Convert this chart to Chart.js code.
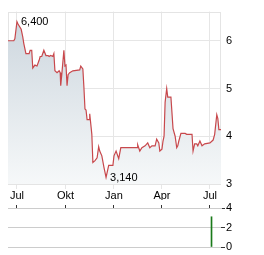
<!DOCTYPE html>
<html><head><meta charset="utf-8">
<script src="https://cdn.jsdelivr.net/npm/chart.js@4.4.1/dist/chart.umd.min.js"></script>
<style>
html,body{margin:0;padding:0;background:#fff;}
#wrap{position:relative;width:264px;height:255px;}
#c1{position:absolute;left:0;top:0;}
#c2{position:absolute;left:0;top:200px;}
</style></head><body>
<div id="wrap">
<canvas id="c1" width="264" height="200"></canvas>
<canvas id="c2" width="264" height="55"></canvas>
</div>
<script>
// Days counted from 2023-07-01
const priceDays = [-17,-6,-4,0,2,8,11,13,17,23,25,28,30,34,38,42,44,47,51,55,59,61,64,68,70,72,76,80,82,83,85,89,91,93,95,97,100,106,119,121,125,127,129,131,133,137,138,142,144,148,152,155,157,161,165,169,174,182,184,188,193,197,228,229,233,237,243,248,252,256,262,265,269,271,275,277,279,281,284,286,292,296,300,303,305,307,311,319,322,332,334,337,341,343,347,351,356,366,372,375,379,381,383,387];
const priceValues = [6.00,6.00,6.04,6.40,6.35,6.24,6.08,5.94,5.73,5.73,5.80,5.80,5.43,5.49,5.47,5.59,5.67,5.67,5.80,5.69,5.69,5.67,5.69,5.67,5.73,5.37,5.33,5.37,5.33,5.06,5.29,5.80,5.47,5.49,5.06,5.29,5.33,5.37,5.39,5.47,5.41,5.02,4.57,4.55,4.35,4.35,4.47,4.04,3.45,3.49,3.55,3.78,3.69,3.59,3.35,3.14,3.39,3.39,3.59,3.69,3.53,3.76,3.76,3.82,3.69,3.76,3.80,3.86,3.76,3.80,3.80,3.94,3.86,3.69,3.73,3.90,4.00,4.71,5.00,4.82,4.82,4.16,4.00,3.76,3.80,3.90,4.06,4.06,4.04,4.04,3.69,3.84,3.84,3.80,3.90,3.80,3.84,3.86,3.92,4.04,4.45,4.37,4.14,4.14];
const tickDays = [0,92,184,275,366];
const tickLabels = ['Jul','Okt','Jan','Apr','Jul'];
const priceTicks = [3,4,5,6];
const volDays = [369];
const volValues = [3.1];
const volTicks = [0,2,4];

const X_MIN = -17, X_MAX = 387;
Chart.defaults.font.family = "'Liberation Sans', Arial, sans-serif";
Chart.defaults.font.size = 11;
Chart.defaults.color = '#000';

const fmt = v => v.toFixed(3).replace('.', ',');

const borderPlugin = {
  id:'areaBorder',
  beforeDatasetsDraw(chart){
    const a = chart.chartArea, ctx = chart.ctx;
    ctx.save();
    ctx.strokeStyle = '#e4e4e4';
    ctx.lineWidth = 1;
    ctx.strokeRect(Math.round(a.left)+0.5, Math.round(a.top)+0.5, Math.round(a.right-a.left)-1, Math.round(a.bottom-a.top));
    ctx.restore();
  }
};

const labelPlugin = {
  id:'extremes',
  afterDatasetsDraw(chart){
    const ctx = chart.ctx, xs = chart.scales.x, ys = chart.scales.y;
    let maxI = 0, minI = 0;
    priceValues.forEach((v,i)=>{ if(v>priceValues[maxI]) maxI=i; if(v<priceValues[minI]) minI=i; });
    ctx.save();
    ctx.font = "11px 'Liberation Sans', Arial, sans-serif";
    ctx.fillStyle = '#000';
    ctx.textBaseline = 'middle';
    ctx.textAlign = 'left';
    [maxI,minI].forEach(i=>{
      ctx.fillText(fmt(priceValues[i]), xs.getPixelForValue(priceDays[i])+4, ys.getPixelForValue(priceValues[i])+0.5);
    });
    ctx.restore();
  }
};

new Chart(document.getElementById('c1'), {
  type:'line',
  data:{datasets:[{
    data: priceDays.map((d,i)=>({x:d,y:priceValues[i]})),
    borderColor:'#c8484c',
    borderWidth:1.2,
    pointRadius:0,
    tension:0,
    fill:'start',
    backgroundColor:(ctx)=>{
      const a = ctx.chart.chartArea;
      if(!a) return 'rgba(210,219,226,1)';
      const g = ctx.chart.ctx.createLinearGradient(0,a.top,0,a.bottom);
      g.addColorStop(0,'rgb(203,213,221)');
      g.addColorStop(1,'rgb(246,248,249)');
      return g;
    }
  }]},
  options:{
    responsive:false, animation:false,
    layout:{padding:{left:8,top:7,right:0,bottom:0}},
    plugins:{legend:{display:false},tooltip:{enabled:false}},
    scales:{
      x:{type:'linear',min:X_MIN,max:X_MAX,
        afterBuildTicks:s=>{s.ticks = tickDays.map(v=>({value:v}));},
        afterFit:s=>{s.height=16;},
        grid:{color:'#e6e6e6',tickLength:5,drawOnChartArea:true},
        border:{display:false},
        ticks:{padding:0,maxRotation:0,autoSkip:false,font:{size:11},
          callback:(v)=>{const i=tickDays.indexOf(v);return i>=0?tickLabels[i]:'';}}
      },
      y:{position:'right',min:3,max:6.61,
        afterBuildTicks:s=>{s.ticks = priceTicks.map(v=>({value:v}));},
        afterFit:s=>{s.width=43;},
        grid:{color:'#e6e6e6',drawTicks:false},
        border:{display:false},
        ticks:{padding:5,font:{size:11},callback:v=>String(v)}
      }
    }
  },
  plugins:[borderPlugin,labelPlugin]
});

new Chart(document.getElementById('c2'), {
  type:'bar',
  data:{datasets:[{
    data: volDays.map((d,i)=>({x:d,y:volValues[i]})),
    backgroundColor:'#1a7a1a',
    barThickness:1
  }]},
  options:{
    responsive:false, animation:false,
    layout:{padding:{left:8,top:5,right:0,bottom:8}},
    plugins:{legend:{display:false},tooltip:{enabled:false}},
    scales:{
      x:{type:'linear',position:'top',min:X_MIN,max:X_MAX,offset:false,
        afterBuildTicks:s=>{s.ticks = tickDays.map(v=>({value:v}));},
        afterFit:s=>{s.height=3;},
        grid:{drawOnChartArea:false,tickLength:3,tickColor:'#333',offset:false},
        border:{display:true,color:'#cccccc'},
        ticks:{display:false}
      },
      y:{position:'right',min:0,max:4,
        afterBuildTicks:s=>{s.ticks = volTicks.map(v=>({value:v}));},
        afterFit:s=>{s.width=43;},
        grid:{color:'#cccccc',tickLength:4,tickColor:'#333'},
        border:{display:false},
        ticks:{padding:1,font:{size:11},callback:v=>String(v)}
      }
    }
  }
});
</script>
</body></html>
